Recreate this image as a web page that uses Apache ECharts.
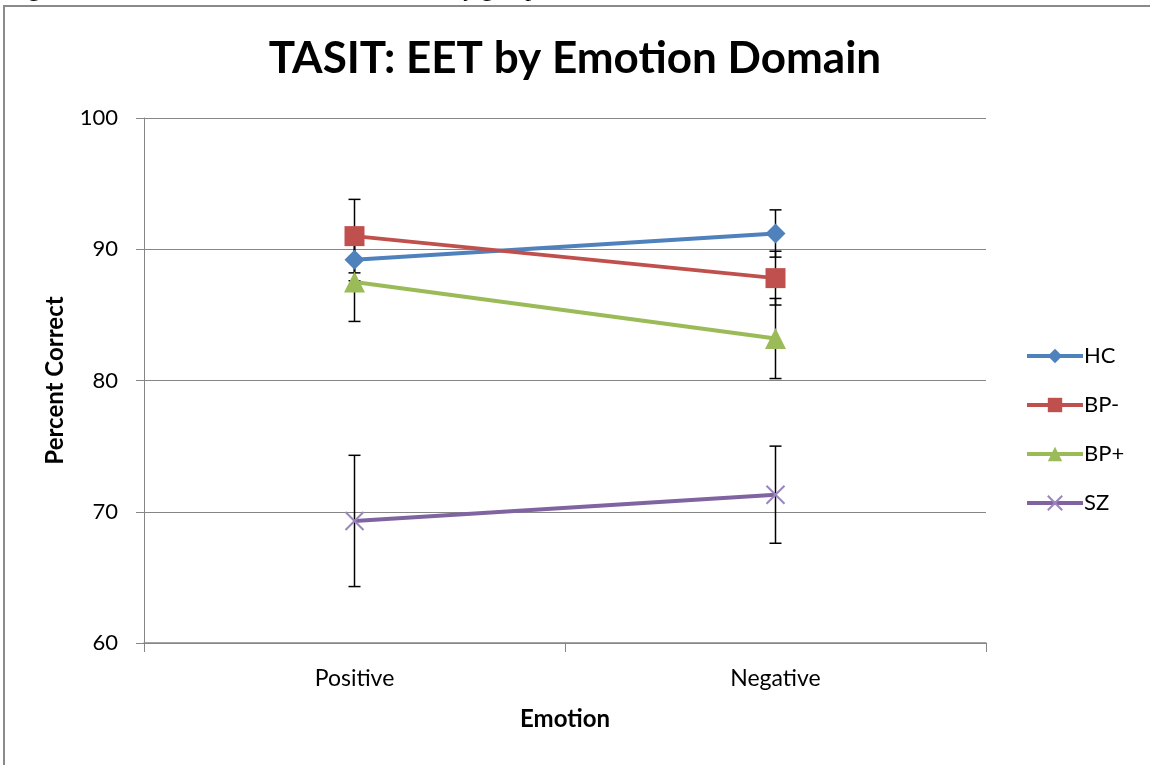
<!DOCTYPE html>
<html>
<head>
    <meta charset="utf-8">
    <title>TASIT: EET by Emotion Domain</title>
    <script src="https://cdn.jsdelivr.net/npm/echarts@6.0.0/dist/echarts.min.js"></script>
    <style>
        html, body { margin: 0; padding: 0; background: #fff; }
    </style>
</head>
<body>
    <div id="main" style="width: 1150px; height: 765px;"></div>

    <script>
        // categories and tick range
        const categories = ['Positive', 'Negative'];
        const yMin = 60, yMax = 100, yStep = 10;

        // group means (percent correct)
        const groups = ['HC', 'BP-', 'BP+', 'SZ'];
        const hcValues = [89.2, 91.2];
        const bpMinusValues = [91.0, 87.8];
        const bpPlusValues = [87.5, 83.2];
        const szValues = [69.3, 71.3];

        // error bar half widths (+/-)
        const hcErr = [1.6, 1.8];
        const bpMinusErr = [2.8, 2.05];
        const bpPlusErr = [3.0, 3.05];
        const szErr = [5.0, 3.7];

        const colors = ['#4F81BD', '#C0504D', '#9BBB59', '#8064A2'];
        const FONT = 'Lato, "Open Sans", sans-serif';

        const crossPath = 'path://M0,0L10,10M10,0L0,10';

        function errData(values, errs) {
            return values.map((v, i) => [i, v - errs[i], v + errs[i]]);
        }

        const allErr = [].concat(
            errData(hcValues, hcErr),
            errData(bpMinusValues, bpMinusErr),
            errData(bpPlusValues, bpPlusErr),
            errData(szValues, szErr)
        );

        function lineSeries(name, data, color, symbol, size) {
            return {
                name: name,
                type: 'line',
                data: data,
                symbol: symbol,
                symbolSize: size,
                z: 5,
                lineStyle: { color: color, width: 4 },
                itemStyle: symbol === crossPath
                    ? { color: 'rgba(0,0,0,0)', borderColor: '#9A86BA', borderWidth: 2 }
                    : { color: color, borderColor: color, borderWidth: 0 },
                emphasis: { disabled: true }
            };
        }

        window.onload = function () {
            const chart = echarts.init(document.getElementById('main'));

            const option = {
                backgroundColor: '#fff',
                animation: false,
                textStyle: { fontFamily: FONT },
                title: {
                    text: 'TASIT: EET by Emotion Domain',
                    left: 'center',
                    top: 32,
                    textStyle: { fontFamily: FONT, fontSize: 44, fontWeight: 'bold', color: '#000' }
                },
                graphic: [
                    {
                        type: 'rect',
                        shape: { x: 4, y: 6, width: 1200, height: 800 },
                        style: { fill: 'none', stroke: '#8a8a8a', lineWidth: 2 },
                        silent: true
                    },
                    {
                        type: 'text',
                        left: 8,
                        top: -22,
                        style: {
                            text: 'Figure 1. TASIT EET emotion domain scores by group',
                            font: '24px "Liberation Serif", serif',
                            fill: '#000'
                        },
                        silent: true
                    }
                ],
                grid: { left: 144, right: 164, top: 118, bottom: 122, containLabel: false },
                legend: {
                    orient: 'vertical',
                    left: 1025,
                    top: 345,
                    padding: 0,
                    itemWidth: 56,
                    itemHeight: 18,
                    itemGap: 27,
                    data: groups,
                    lineStyle: { width: 4 },
                    textStyle: { fontFamily: FONT, fontSize: 22, color: '#000', padding: [0, 0, 0, -4] }
                },
                xAxis: {
                    type: 'category',
                    data: categories,
                    boundaryGap: true,
                    name: 'Emotion',
                    nameLocation: 'middle',
                    nameGap: 64,
                    nameTextStyle: { fontFamily: FONT, fontSize: 24, fontWeight: 'bold', color: '#000' },
                    axisLine: { lineStyle: { color: '#868686', width: 1.5 } },
                    axisTick: { show: true, length: 9, lineStyle: { color: '#868686' } },
                    axisLabel: { fontFamily: FONT, fontSize: 23, color: '#000', margin: 24 }
                },
                yAxis: {
                    type: 'value',
                    min: yMin,
                    max: yMax,
                    interval: yStep,
                    name: 'Percent Correct',
                    nameLocation: 'middle',
                    nameGap: 77,
                    nameTextStyle: { fontFamily: FONT, fontSize: 24, fontWeight: 'bold', color: '#000' },
                    axisLine: { show: true, lineStyle: { color: '#868686', width: 1 } },
                    axisTick: { show: true, length: 8, lineStyle: { color: '#868686' } },
                    axisLabel: { fontFamily: FONT, fontSize: 22, color: '#000', margin: 26 },
                    splitLine: { lineStyle: { color: '#868686', width: 1 } }
                },
                series: [
                    {
                        name: 'errors',
                        type: 'custom',
                        z: 2,
                        silent: true,
                        data: allErr,
                        encode: { x: 0, y: [1, 2] },
                        renderItem: function (params, api) {
                            const lo = api.coord([api.value(0), api.value(1)]);
                            const hi = api.coord([api.value(0), api.value(2)]);
                            const cap = 6;
                            const st = { stroke: '#000', lineWidth: 1.5 };
                            return {
                                type: 'group',
                                children: [
                                    { type: 'line', shape: { x1: hi[0], y1: hi[1], x2: lo[0], y2: lo[1] }, style: st },
                                    { type: 'line', shape: { x1: hi[0] - cap, y1: hi[1], x2: hi[0] + cap, y2: hi[1] }, style: st },
                                    { type: 'line', shape: { x1: lo[0] - cap, y1: lo[1], x2: lo[0] + cap, y2: lo[1] }, style: st }
                                ]
                            };
                        }
                    },
                    lineSeries('HC', hcValues, colors[0], 'diamond', 20),
                    lineSeries('BP-', bpMinusValues, colors[1], 'rect', 20),
                    lineSeries('BP+', bpPlusValues, colors[2], 'triangle', 21),
                    lineSeries('SZ', szValues, colors[3], crossPath, 18)
                ]
            };

            chart.setOption(option);
        };
    </script>
</body>
</html>
